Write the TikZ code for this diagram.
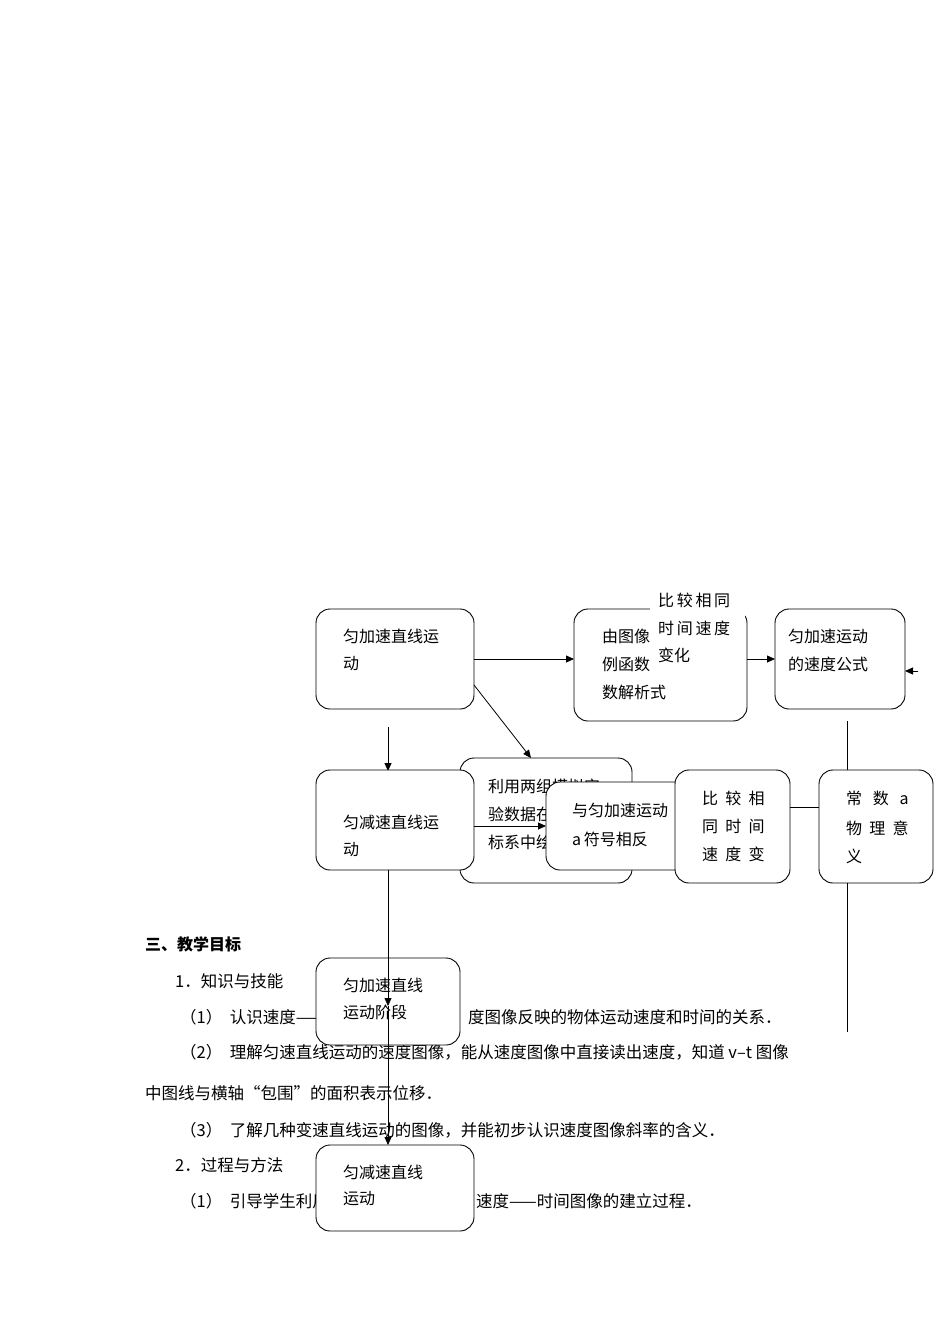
\documentclass[tikz,border=0pt]{standalone}
\usepackage{fontspec}
\setmainfont{Noto Sans CJK SC}
\usetikzlibrary{arrows.meta}
\begin{document}
\begin{tikzpicture}[x=1pt,y=-1pt,
  rbox/.style={draw,line width=0.9pt,rounded corners=14pt,fill=white},
  tx/.style={anchor=west,inner sep=0,font=\fontsize{16}{18}\selectfont},
  bt/.style={anchor=west,inner sep=0,font=\fontsize{16.5}{18}\selectfont},
  arr/.style={-{Triangle[length=8pt,width=7pt]},line width=0.8pt},
  ln/.style={line width=0.8pt}]
\useasboundingbox[fill=white] (0,0) rectangle (950,1344);
% body text
\node[bt,font=\fontsize{16}{18}\selectfont\bfseries] (h) at (145,944) {三、教学目标};
\node[bt] (t1) at (175,981) {1．知识与技能};
\node[bt] (t2a) at (180,1017) {（1）\ \ 认识速度——};
\node[bt] (t2b) at (468,1017) {度图像反映的物体运动速度和时间的关系．};
\node[bt] (t3) at (180,1052) {（2）\ \ 理解匀速直线运动的速度图像，能从速度图像中直接读出速度，知道 \textit{v}–\textit{t} 图像};
\node[bt] (t4) at (145,1093) {中图线与横轴“包围”的面积表示位移．};
\node[bt] (t5) at (180,1130) {（3）\ \ 了解几种变速直线运动的图像，并能初步认识速度图像斜率的含义．};
\node[bt] (t6) at (175,1165) {2．过程与方法};
\node[bt] (t7a) at (180,1201) {（1）\ \ 引导学生利用};
\node[bt] (t7b) at (476,1201) {速度——时间图像的建立过程．};
% B box
\draw[rbox] (574,609) rectangle (747,721);
\coordinate (Bw) at (574,659);
\node[tx] (B1) at (602,636) {由图像};
\node[tx] (B2) at (602,664) {例函数};
\node[tx] (B3) at (602,692) {数解析式};
% C white label (covers part of B)
\fill[white] (650,585) rectangle (745,670);
\node[tx] (C1) at (658,600) {比\,较\,相\,同};
\node[tx] (C2) at (658,628) {时\,间\,速\,度};
\node[tx] (C3) at (658,655) {变化};
\coordinate (Ce) at (747,659);
% A
\draw[rbox] (316,609) rectangle (474,709);
\node[tx] (A1) at (343,636) {匀加速直线运};
\node[tx] (A2) at (343,664) {动};
% D
\draw[rbox] (775,609) rectangle (905,709);
\node[tx] (D1) at (788,636) {匀加速运动};
\node[tx] (D2) at (788,664) {的速度公式};
\coordinate (Dw) at (775,659);
\coordinate (Dr) at (905,671);
\coordinate (Ds) at (918,671);
\draw[arr] (Ds) -- (Dr);
\draw[arr] (474,659) -- (Bw);
\draw[arr] (Ce) -- (Dw);
% F
\draw[rbox] (460,758) rectangle (632,883);
\node[tx] (F1) at (488,786) {利用两组模拟实};
\node[tx] (F2) at (488,814) {验数据在坐};
\node[tx] (F3) at (488,842) {标系中绘};
\draw[arr] (474,685) -- (531,758);
% G
\draw[rbox] (546,782) rectangle (690,870);
\node[tx] (G1) at (572,810) {与匀加速运动};
\node[tx] (G2) at (572,839) {a\,符号相反};
% H
\draw[rbox] (675,770) rectangle (790,883);
\node[tx] (H1) at (702,798) {比\ \ 较\ \ 相};
\node[tx] (H2) at (702,826) {同\ \ 时\ \ 间};
\node[tx] (H3) at (702,854) {速\ \ 度\ \ 变};
% E
\draw[rbox] (819,770) rectangle (933,883);
\node[tx] (E1) at (846,798) {常\ \ \ 数\ \ \ a};
\node[tx] (E2) at (846,828) {物\ \ 理\ \ 意};
\node[tx] (E3) at (846,856) {义};
\draw[ln] (790,807) -- (819,807);
\draw[ln] (847,721) -- (847,770);
\coordinate (Eend) at (847,1032);
\draw[ln] (847,883) -- (Eend);
% I
\draw[arr] (388,727) -- (388,771);
\draw[rbox] (316,770) rectangle (474,870);
\node[tx] (I1) at (343,822) {匀减速直线运};
\node[tx] (I2) at (343,850) {动};
\draw[arr] (474,826) -- (546,826);
% J, K
\draw[rbox] (316,958) rectangle (460,1045);
\node[tx] (J1) at (343,985) {匀加速直线};
\node[tx] (J2) at (343,1012) {运动阶段};
\draw[rbox] (316,1145) rectangle (474,1231);
\node[tx] (K1) at (343,1172) {匀减速直线};
\node[tx] (K2) at (343,1199) {运动};
\draw[arr] (388,870) -- (388,1006);
\draw[arr] (388,1006) -- (388,1145);
\end{tikzpicture}
\end{document}
